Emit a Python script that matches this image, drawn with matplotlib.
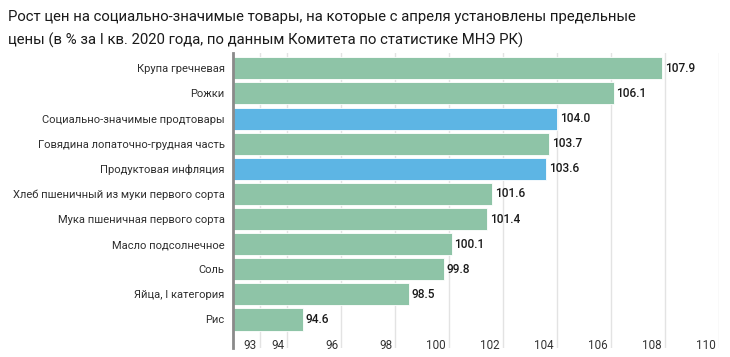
import matplotlib
matplotlib.use("Agg")
import matplotlib.pyplot as plt
import matplotlib.transforms as mtransforms

plt.rcParams['font.family'] = ['Roboto', 'DejaVu Sans']

categories = ["Крупа гречневая", "Рожки", "Социально-значимые продтовары",
              "Говядина лопаточно-грудная часть", "Продуктовая инфляция",
              "Хлеб пшеничный из муки первого сорта", "Мука пшеничная первого сорта",
              "Масло подсолнечное", "Соль", "Яйца, I категория", "Рис"]
values = [107.9, 106.1, 104.0, 103.7, 103.6, 101.6, 101.4, 100.1, 99.8, 98.5, 94.6]
highlight = [False, False, True, False, True, False, False, False, False, False, False]
xticks = [93, 94, 96, 98, 100, 102, 104, 106, 108, 110]
title_lines = ["Рост цен на социально-значимые товары, на которые с апреля установлены предельные",
               "цены (в % за I кв. 2020 года, по данным Комитета по статистике МНЭ РК)"]

GREEN = "#8ec4a7"
BLUE = "#5db5e4"
W, H = 730, 357

fig = plt.figure(figsize=(W / 100, H / 100), dpi=100)
ax = fig.add_axes([233 / W, 1 - 348 / H, (719 - 233) / W, (348 - 53) / H])

pos = list(range(len(categories)))
colors = [BLUE if h else GREEN for h in highlight]
xmin = 92
ax.barh(pos, [v - xmin for v in values], left=xmin, height=0.88, color=colors,
        edgecolor="white", linewidth=0.6, zorder=2)

for p, v in zip(pos, values):
    ax.annotate(f"{v:.1f}", (v, p), xytext=(2, 0), textcoords="offset points",
                va="center", ha="left", fontsize=8.6, fontweight="medium", color="#1a1a1a")

ax.set_xlim(92, 110)
ax.set_ylim(10 + 1.135, -0.61)
ax.set_yticks(pos)
ax.set_yticklabels(categories, fontsize=8.0, color="#2e2e2e")
ax.tick_params(axis="y", length=0, pad=6)

ax.set_xticks(xticks)
ax.set_xticklabels([str(t) for t in xticks], fontsize=8.4, color="#333333", ha="right")
ax.tick_params(axis="x", length=0, pad=-6.5)
shift = mtransforms.ScaledTranslation(-3 / 100, 0, fig.dpi_scale_trans)
for lab in ax.get_xticklabels():
    lab.set_transform(lab.get_transform() + shift)

ax.grid(axis="x", color="#e3e3e3", linewidth=1, zorder=0)
ax.set_axisbelow(True)
for s in ["top", "right", "bottom"]:
    ax.spines[s].set_visible(False)
ax.spines["left"].set_color("#8a8a8a")
ax.spines["left"].set_linewidth(2)
ax.spines["left"].set_zorder(3)

fig.text(8 / W, 1 - 17 / H, title_lines[0], fontsize=10.7, color="#1a1a1a", va="center", ha="left")
fig.text(8 / W, 1 - 40 / H, title_lines[1], fontsize=10.7, color="#1a1a1a", va="center", ha="left")

fig.savefig("out.png", dpi=100)
